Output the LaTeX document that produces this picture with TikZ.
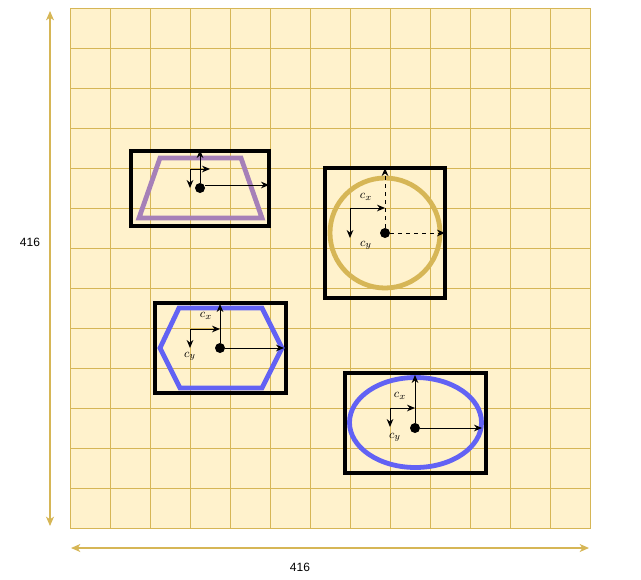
\documentclass[tikz,border=0pt]{standalone}
\usepackage{fontspec}
\newfontfamily\dimfont{Liberation Sans}
\usetikzlibrary{arrows.meta}
\definecolor{gridfill}{HTML}{FFF2CC}
\definecolor{gridline}{HTML}{D6B656}
\definecolor{trapcol}{HTML}{A680B8}
\definecolor{hexcol}{HTML}{6262F4}
\tikzset{
  frame/.style={draw=black, line width=2.3pt},
  outline/.style={line width=3.6pt, line join=miter},
  dot/.style={circle, fill=black, inner sep=0pt, minimum size=7.5pt},
  axis/.style={-{Stealth[length=6pt,width=5pt]}, line width=0.75pt},
  dimline/.style={{Stealth[length=7pt,width=6pt,inset=2pt]}-{Stealth[length=7pt,width=6pt,inset=2pt]}, draw=gridline, line width=0.9pt},
  dimlabel/.style={font=\dimfont\fontsize{9}{11}\selectfont, inner sep=0pt},
  symlabel/.style={font=\fontsize{9.5}{11}\selectfont, inner sep=0pt}
}
\begin{document}
\begin{tikzpicture}[x=0.75pt, y=-0.75pt]
  \useasboundingbox (0,0) rectangle (641,579);

  % grid
  \fill[gridfill] (70,8) rectangle (590,528);
  \foreach \gx in {110,150,...,550}
    \draw[gridline, line width=0.6pt] (\gx,8) -- (\gx,528);
  \foreach \gy in {48,88,...,488}
    \draw[gridline, line width=0.6pt] (70,\gy) -- (590,\gy);
  \draw[gridline, line width=0.6pt] (70,8) rectangle (590,528);

  % dimensions
  \coordinate (vtop) at (50,11);
  \coordinate (vbot) at (50,526);
  \coordinate (hleft) at (71,548);
  \coordinate (hright) at (589,548);
  \draw[dimline] (vtop) -- (vbot);
  \draw[dimline] (hleft) -- (hright);
  \node[dimlabel] (hlabel) at (300,567) {416};
  \node[dimlabel] (vlabel) at (30,242) {416};

  % trapezoid
  \draw[frame] (131,151) rectangle (269,226);
  \draw[outline, draw=trapcol] (160,158) -- (241,158) -- (262,218) -- (139,218) -- cycle;
  \node[dot] (d1) at (200,188) {};
  \coordinate (t1up) at (200,150);
  \coordinate (t1right) at (269,185);
  \coordinate (t1c) at (190,169);
  \draw[axis] (d1) -- (t1up);
  \draw[axis] (d1.east |- t1right) -- (t1right);
  \draw[axis] (t1c) -- ++(20,0);
  \draw[axis] (t1c) -- ++(0,19);

  % circle
  \draw[frame] (325,168) rectangle (445,298);
  \draw[outline, draw=gridline] (385,233) ellipse [x radius=55, y radius=55];
  \node[dot] (d2) at (385,233) {};
  \coordinate (c2up) at (385,168);
  \coordinate (c2right) at (445,233);
  \coordinate (c2c) at (350,208);
  \draw[axis, dashed] (d2) -- (c2up);
  \draw[axis, dashed] (d2) -- (c2right);
  \draw[axis] (c2c) -- (c2c -| d2);
  \draw[axis] (c2c) -- ++(0,30);
  \node[symlabel] (c2x) at (366,197) {$c_x$};
  \node[symlabel] (c2y) at (366,245) {$c_y$};

  % hexagon
  \draw[frame] (155,303) rectangle (286,393);
  \draw[outline, draw=hexcol] (160,348) -- (179,308) -- (262,308) -- (282,348) -- (262,388) -- (180,388) -- cycle;
  \node[dot] (d3) at (220,348) {};
  \coordinate (h3up) at (220,304);
  \coordinate (h3right) at (284,348);
  \coordinate (h3c) at (190,329);
  \draw[axis] (d3) -- (h3up);
  \draw[axis] (d3) -- (h3right);
  \draw[axis] (h3c) -- (h3c -| d3);
  \draw[axis] (h3c) -- ++(0,19);
  \node[symlabel] (h3x) at (206,316) {$c_x$};
  \node[symlabel] (h3y) at (190,356) {$c_y$};

  % ellipse
  \draw[frame] (345,373) rectangle (486,473);
  \draw[outline, draw=hexcol] (415.5,422.5) ellipse [x radius=66, y radius=45];
  \node[dot] (d4) at (415,428) {};
  \coordinate (e4up) at (415,375);
  \coordinate (e4right) at (482,428);
  \coordinate (e4c) at (390,408);
  \draw[axis] (d4) -- (e4up);
  \draw[axis] (d4) -- (e4right);
  \draw[axis] (e4c) -- (e4c -| d4);
  \draw[axis] (e4c) -- ++(0,19);
  \node[symlabel] (e4x) at (400,396) {$c_x$};
  \node[symlabel] (e4y) at (395,437) {$c_y$};
\end{tikzpicture}
\end{document}
